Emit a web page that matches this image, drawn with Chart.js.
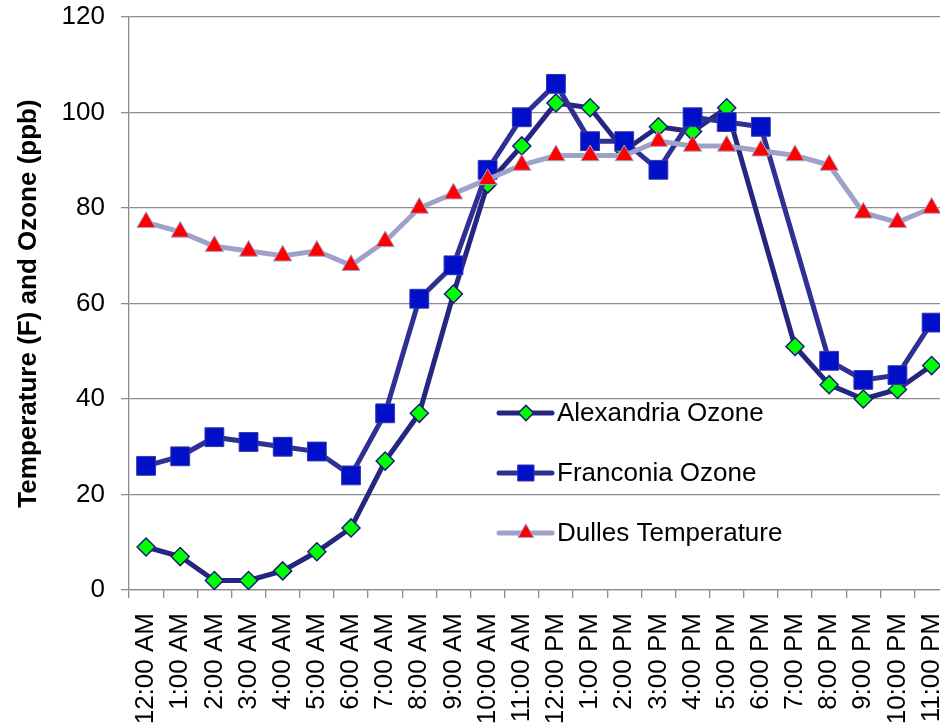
<!DOCTYPE html>
<html>
<head>
<meta charset="utf-8">
<script src="https://cdn.jsdelivr.net/npm/chart.js@4/dist/chart.umd.min.js"></script>
<style>
    html, body { margin: 0; padding: 0; background: #fff; overflow: hidden; }
    #wrap { width: 940px; height: 727px; overflow: hidden; position: relative; }
    #chart { display: block; }
</style>
</head>
<body>
<div id="wrap"><canvas id="chart" width="963" height="770"></canvas></div>
<script>
// hours along the x axis
var hours = ['12:00 AM', '1:00 AM', '2:00 AM', '3:00 AM', '4:00 AM', '5:00 AM', '6:00 AM', '7:00 AM',
    '8:00 AM', '9:00 AM', '10:00 AM', '11:00 AM', '12:00 PM', '1:00 PM', '2:00 PM', '3:00 PM',
    '4:00 PM', '5:00 PM', '6:00 PM', '7:00 PM', '8:00 PM', '9:00 PM', '10:00 PM', '11:00 PM'];

// ozone in ppb, null where the station had no reading
var alexandriaOzone = [9, 7, 2, 2, 4, 8, 13, 27, 37, 62, 85, 93, 102, 101, 92, 97, 96, 101, null, 51, 43, 40, 42, 47];
var franconiaOzone = [26, 28, 32, 31, 30, 29, 24, 37, 61, 68, 88, 99, 106, 94, 94, 88, 99, 98, 97, null, 48, 44, 45, 56];

// temperature in F
var dullesTemp = [77, 75, 72, 71, 70, 71, 68, 73, 80, 83, 86, 89, 91, 91, 91, 94, 93, 93, 92, 91, 89, 79, 77, 80];

var yTicks = [0, 20, 40, 60, 80, 100, 120];

var FONT = '"Liberation Sans", Arial, sans-serif';

var series = [
    {
        label: 'Alexandria Ozone', data: alexandriaOzone, order: 3,
        line: '#262680', fill: '#00ff00', edge: '#1c1c78', style: 'rectRot', radius: 9, edgeWidth: 1.5
    },
    {
        label: 'Franconia Ozone', data: franconiaOzone, order: 2,
        line: '#2e3193', fill: '#0010c8', edge: '#3535a8', style: 'rect', radius: 13.3, edgeWidth: 1
    },
    {
        label: 'Dulles Temperature', data: dullesTemp, order: 1,
        line: '#9fa2c8', fill: '#ff0000', edge: '#a3a3cc', style: 'triangle', radius: 10.5, edgeWidth: 1
    }
];

// legend sits inside the plot, lines with the marker in the middle
var insideLegend = {
    id: 'insideLegend',
    afterDraw: function (chart) {
        var ctx = chart.ctx;
        var rows = [413, 473, 533];
        ctx.save();
        series.forEach(function (s, i) {
            var y = rows[i];
            ctx.strokeStyle = s.line;
            ctx.lineWidth = 5;
            ctx.lineCap = 'round';
            ctx.beginPath();
            ctx.moveTo(499, y);
            ctx.lineTo(552, y);
            ctx.stroke();

            ctx.fillStyle = s.fill;
            ctx.strokeStyle = s.edge;
            ctx.lineWidth = s.edgeWidth;
            Chart.helpers.drawPoint(ctx, {
                pointStyle: s.style, radius: s.radius * 0.85, rotation: 0, borderWidth: s.edgeWidth
            }, 526, y);

            ctx.fillStyle = '#000';
            ctx.font = '26px ' + FONT;
            ctx.textAlign = 'left';
            ctx.textBaseline = 'middle';
            ctx.fillText(s.label, 557, y + 1);
        });
        ctx.restore();
    }
};

var ctx = document.getElementById('chart').getContext('2d');
var chart = new Chart(ctx, {
    type: 'line',
    data: {
        labels: hours,
        datasets: series.map(function (s) {
            return {
                label: s.label,
                data: s.data,
                order: s.order,
                borderColor: s.line,
                borderWidth: 5,
                tension: 0,
                spanGaps: true,
                fill: false,
                pointStyle: s.style,
                pointRadius: s.radius,
                pointBackgroundColor: s.fill,
                pointBorderColor: s.edge,
                pointBorderWidth: s.edgeWidth
            };
        })
    },
    options: {
        responsive: false,
        animation: false,
        events: [],
        layout: { padding: { left: 0, top: 17, right: 1, bottom: 0 } },
        plugins: {
            legend: { display: false },
            tooltip: { enabled: false }
        },
        scales: {
            x: {
                offset: true,
                grid: { drawOnChartArea: false, offset: true, tickLength: 8, color: '#8c8c8c', lineWidth: 1.3 },
                border: { color: '#8c8c8c', width: 1.3 },
                ticks: {
                    autoSkip: false, minRotation: 90, maxRotation: 90, padding: 15,
                    color: '#000', font: { family: FONT, size: 26 }
                },
                afterFit: function (scale) {
                    scale.height = 180;
                    scale.paddingLeft = 0;
                    scale.paddingRight = 0;
                }
            },
            y: {
                min: 0, max: 120,
                afterBuildTicks: function (scale) {
                    scale.ticks = yTicks.map(function (v) { return { value: v }; });
                },
                grid: { color: '#8c8c8c', lineWidth: 1.3, tickLength: 8 },
                border: { color: '#8c8c8c', width: 1.3 },
                ticks: { padding: 16, color: '#000', font: { family: FONT, size: 26 } },
                title: {
                    display: true,
                    text: 'Temperature (F) and Ozone (ppb)',
                    color: '#000',
                    font: { family: FONT, size: 26, weight: 'bold', lineHeight: 1.2 },
                    padding: { top: 13, bottom: 0 }
                },
                afterFit: function (scale) {
                    scale.width = 129;
                    scale.paddingTop = 0;
                    scale.paddingBottom = 0;
                }
            }
        }
    },
    plugins: [insideLegend, {
        id: 'whiteBg',
        beforeDraw: function (c) {
            c.ctx.save();
            c.ctx.fillStyle = '#fff';
            c.ctx.fillRect(0, 0, c.width, c.height);
            c.ctx.restore();
        }
    }]
});
</script>
</body>
</html>
